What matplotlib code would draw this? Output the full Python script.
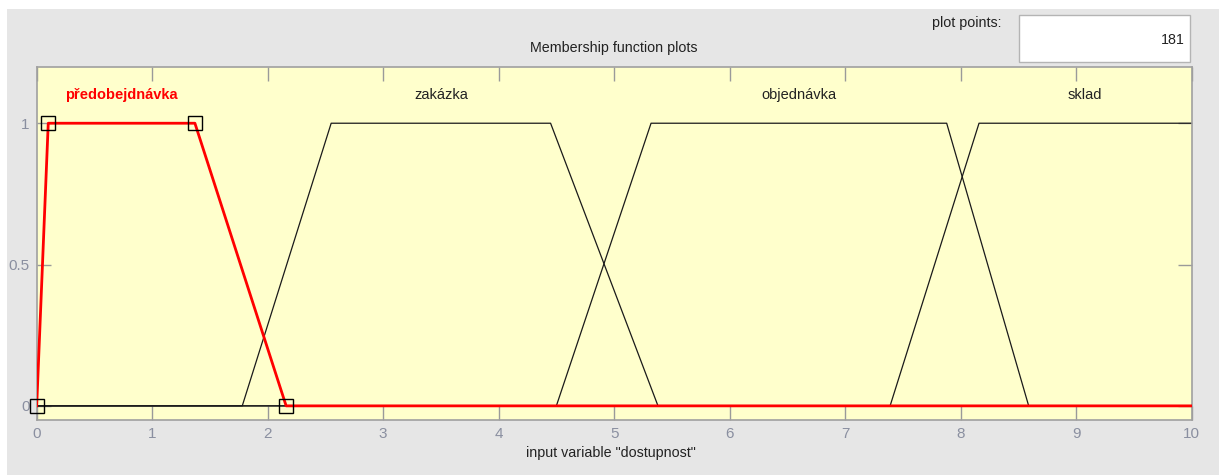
#!/usr/bin/env python
# -*- coding: utf-8 -*-

'''
Membership function plots for input variable "dostupnost"
'''

import matplotlib
matplotlib.use('Agg')
import matplotlib.pyplot as plt
from matplotlib.patches import Rectangle

plt.rcParams['font.family'] = ['Liberation Sans', 'DejaVu Sans']

# data: trapezoid membership functions [a, b, c, d]
mfNames = ['předobejdnávka', 'zakázka', 'objednávka', 'sklad']
mfParams = [
    [0.0, 0.10, 1.37, 2.16],
    [1.78, 2.55, 4.45, 5.38],
    [4.50, 5.32, 7.88, 8.59],
    [7.39, 8.16, 10.0, 10.0],
]
selected = 0
xRange = [0, 10]
xTicks = [0, 1, 2, 3, 4, 5, 6, 7, 8, 9, 10]
yTicks = [0, 0.5, 1]
yTickLabels = ['0', '0.5', '1']
plotPoints = '181'
title = 'Membership function plots'
xLabel = 'input variable "dostupnost"'

W, H = 1219, 475


def fx(px):
    return px / W


def fy(py):
    return 1 - py / H


def trapCorners(p):
    xs = [xRange[0], p[0], p[1], p[2], p[3], xRange[1]]
    ys = [0, 0, 1, 1, 0, 0]
    if p[3] >= xRange[1]:
        xs, ys = [xRange[0], p[0], p[1], xRange[1]], [0, 0, 1, 1]
    return xs, ys


def main():
    fig = plt.figure(figsize=(W / 100, H / 100), dpi=100, facecolor='white')
    # grey panel
    fig.patches.append(Rectangle((fx(7), 0), 1 - fx(7), fy(9), transform=fig.transFigure,
                                 facecolor='#e6e6e6', edgecolor='none', zorder=0))
    # plot points box
    fig.patches.append(Rectangle((fx(1019), fy(61.5)), fx(1190) - fx(1019), fy(14.5) - fy(61.5),
                                 transform=fig.transFigure, facecolor='white',
                                 edgecolor='#b4b4b4', linewidth=1, zorder=1))
    fig.text(fx(1002), fy(23), 'plot points:', ha='right', va='center', fontsize=10.3, color='#222222')
    fig.text(fx(1185), fy(40), plotPoints, ha='right', va='center', fontsize=10.3, color='#222222')

    ax = fig.add_axes([fx(36.7), fy(420), fx(1191.5) - fx(36.7), fy(66.7) - fy(420)])
    ax.set_zorder(5)
    ax.set_facecolor('#ffffcc')
    ax.set_xlim(xRange)
    ax.set_ylim(-0.05, 1.2)

    for i, (name, p) in enumerate(zip(mfNames, mfParams)):
        if i == selected:
            continue
        xs, ys = trapCorners(p)
        ax.plot(xs, ys, color='#1a1a1a', linewidth=0.9, zorder=2)
        ax.text((p[1] + p[2]) / 2, 1.1, name, ha='center', va='center', fontsize=10.5, color='#222222')

    p = mfParams[selected]
    xs, ys = trapCorners(p)
    ax.plot(xs, ys, color='#ff0000', linewidth=2.0, zorder=3)
    ax.plot(p, [0, 1, 1, 0], linestyle='none', marker='s', markersize=9.5,
            markerfacecolor='none', markeredgecolor='black', markeredgewidth=1, zorder=4,
            clip_on=False)
    ax.text((p[1] + p[2]) / 2, 1.1, mfNames[selected], ha='center', va='center',
            fontsize=10.5, color='#ff0000', fontweight='bold')

    ax.set_xticks(xTicks)
    ax.set_xticklabels([str(t) for t in xTicks])
    ax.set_yticks(yTicks)
    ax.set_yticklabels(yTickLabels)
    ax.tick_params(direction='in', top=True, right=True, length=10, width=1,
                   color='#9a9a9a', labelcolor='#8a8fa0', labelsize=11, pad=5)
    for s in ax.spines.values():
        s.set_color('#a0a0a0')
        s.set_linewidth(1.2)

    fig.text(fx(614), fy(48), title, ha='center', va='center', fontsize=10.3, color='#222222')
    fig.text(fx(611), fy(453), xLabel, ha='center', va='center', fontsize=10.3, color='#222222')

    fig.savefig('out.png', dpi=100, facecolor=fig.get_facecolor())


if (__name__ == "__main__"):
    main()
